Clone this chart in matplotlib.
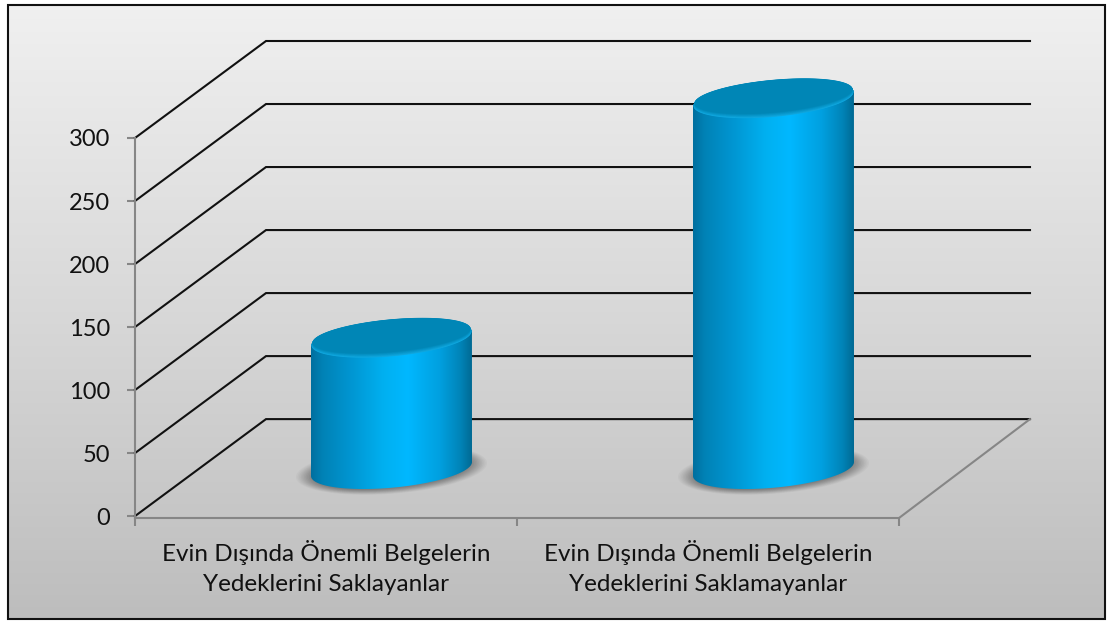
import numpy as np
import matplotlib
matplotlib.use('Agg')
import matplotlib.pyplot as plt
from matplotlib.colors import LinearSegmentedColormap, to_rgb
from matplotlib.path import Path
from matplotlib.patches import Rectangle

categories = ['Evin Dışında Önemli Belgelerin\nYedeklerini Saklayanlar',
              'Evin Dışında Önemli Belgelerin\nYedeklerini Saklamayanlar']
values = [103, 293]
y_ticks = [0, 50, 100, 150, 200, 250, 300]

plt.rcParams['font.family'] = ['Lato', 'DejaVu Sans']

W, H = 1107, 621
fig = plt.figure(figsize=(W / 100, H / 100), dpi=100, facecolor='white')

# background panel with the frame
bg = fig.add_axes([0, 0, 1, 1], zorder=0)
bg.axis('off')
panel_cmap = LinearSegmentedColormap.from_list('panel', ['#f0f0f0', '#d8d8d8', '#bdbdbd'])
panel = bg.imshow(np.linspace(0, 1, 256).reshape(-1, 1), cmap=panel_cmap, aspect='auto',
                  extent=[8, 1105, 619, 5])
bg.set_xlim(0, W)
bg.set_ylim(H, 0)
bg.add_patch(Rectangle((8, 5), 1097, 614, fill=False, ec='#111111', lw=1.5))

# plot axes, the front floor edge sits on the spines
ax = fig.add_axes([135 / W, (H - 518) / H, 764 / W, 380 / H], zorder=1)
ax.patch.set_alpha(0)
ax.set_xlim(0, 2)
ax.set_ylim(-1.5, 300)
px_x = 764 / 2
px_y = 380 / 301.5
depth_x = 131 / px_x
depth_y = 97 / px_y

for s in ['top', 'right']:
    ax.spines[s].set_visible(False)
for s in ['left', 'bottom']:
    ax.spines[s].set_color('#868686')
    ax.spines[s].set_linewidth(1.5)

ax.set_yticks(y_ticks)
ax.set_xticks([0, 1, 2])
ax.set_xticklabels([])
ax.set_xticks([0.5, 1.5], minor=True)
ax.set_xticklabels(categories, minor=True, linespacing=1.58)
ax.tick_params(axis='x', which='major', length=6, width=1.5, color='#868686')
ax.tick_params(axis='x', which='minor', length=0, pad=15.5, labelsize=17.5, labelcolor='#111111')
ax.tick_params(axis='y', length=6, width=1.5, color='#868686', pad=12, labelsize=17, labelcolor='#111111')

# walls
for v in y_ticks:
    ax.plot([0, depth_x, 2 + depth_x], [v, v + depth_y, v + depth_y],
            color='#111111', lw=1.5, clip_on=False, zorder=2, solid_joinstyle='miter')
ax.plot([2, 2 + depth_x], [-1.5, depth_y], color='#868686', lw=1.5, clip_on=False, zorder=2)


def ellipse(cx, cy, a, b, k, t):
    # a, b, k are in pixels, k is the tilt of the ellipse
    return cx + a * np.cos(t) / px_x, cy + (b * np.sin(t) + k * np.cos(t)) / px_y


body_cmap = LinearSegmentedColormap.from_list('body', [
    (0.0, '#006f9f'), (0.07, '#0082b6'), (0.25, '#0096d2'), (0.45, '#00b0f0'),
    (0.6, '#00b8ff'), (0.8, '#00a0e0'), (0.93, '#0084b8'), (1.0, '#006a94')])

A, B, K = 80.5, 18.7, 7
for i, v in enumerate(values):
    cx = i + 0.5 + 0.5 * depth_x
    y0 = 0.485 * depth_y

    # shadow on the floor
    t = np.linspace(0, 2 * np.pi, 120)
    for j in range(12):
        sx, sy = ellipse(cx, y0 - 1 / px_y, A + 15 - j * 1.6, B + 5 - j * 0.5, K, t)
        ax.fill(sx, sy, color='#5a5a5a', alpha=0.05 + j * 0.006, lw=0, clip_on=False, zorder=3)

    # cylinder side
    x1, y1 = ellipse(cx, y0, A, B, K, np.linspace(np.pi, 2 * np.pi, 80))
    x2, y2 = ellipse(cx, y0 + v, A, B, K, np.linspace(0, np.pi, 80))
    path = Path(np.column_stack([np.r_[x1, x2], np.r_[y1, y2]]))
    im = ax.imshow(np.linspace(0, 1, 256).reshape(1, -1), cmap=body_cmap, aspect='auto',
                   extent=[cx - A / px_x, cx + A / px_x, y0 - 30, y0 + v + 30], zorder=4)
    im.set_clip_path(path, ax.transData)
    im.set_clip_box(fig.bbox)

    # cylinder top, bevel then darker face
    top_y = y0 + v
    x3, y3 = ellipse(cx, top_y, A, B, K, t)
    top_path = Path(np.column_stack([x3, y3]))
    rim = ax.imshow(np.linspace(0, 1, 256).reshape(1, -1), cmap=body_cmap, aspect='auto',
                    extent=[cx - A / px_x, cx + A / px_x, top_y - 30, top_y + 30], zorder=5)
    rim.set_clip_path(top_path, ax.transData)
    rim.set_clip_box(fig.bbox)
    c0 = np.array(to_rgb('#10a8e0'))
    c1 = np.array(to_rgb('#0086b6'))
    for j in range(9):
        f = j / 8
        x4, y4 = ellipse(cx, top_y + (0.8 + 0.35 * j) / px_y, A - 0.5 - f, B - 0.8 - f * 1.5, K, t)
        ax.fill(x4, y4, color=tuple(c0 + (c1 - c0) * f), lw=0, clip_on=False, zorder=6)

ax.set_xlim(0, 2)
ax.set_ylim(-1.5, 300)

plt.savefig('out.png', dpi=100)
